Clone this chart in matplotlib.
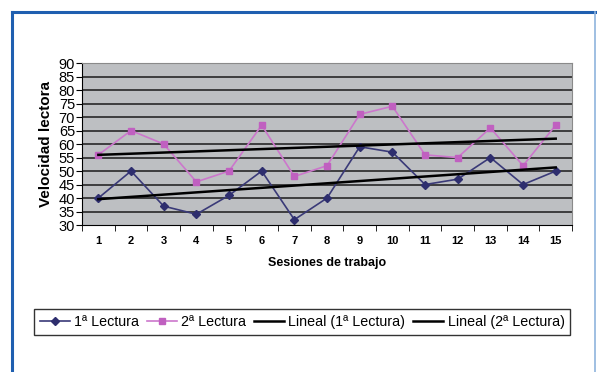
import matplotlib
matplotlib.use("Agg")
import matplotlib.pyplot as plt
import numpy as np
from matplotlib.lines import Line2D

plt.rcParams['font.family'] = ['Liberation Sans', 'DejaVu Sans']

sesiones = np.arange(1, 16)
lectura1 = [40, 50, 37, 34, 41, 50, 32, 40, 59, 57, 45, 47, 55, 45, 50]
lectura2 = [56, 65, 60, 46, 50, 67, 48, 52, 71, 74, 56, 55, 66, 52, 67]
y_ticks = list(range(30, 95, 5))

fig = plt.figure(figsize=(5.97, 3.72), dpi=100)
ax = fig.add_axes([0.1374, 0.395, 0.8208, 0.4355])
ax.set_facecolor('#bdbfc2')

# grid lines every 5
for v in y_ticks[1:-1]:
    ax.axhline(v, color='#1a1a1a', lw=1.1, zorder=1)

ax.plot(sesiones, lectura1, color='#3a3a78', lw=1.2, marker='D', ms=4.5,
        mfc='#2e2e6e', mec='#2e2e6e', zorder=3, label='1ª Lectura')
ax.plot(sesiones, lectura2, color='#cc77cc', lw=1.2, marker='s', ms=5,
        mfc='#c060c0', mec='#c060c0', zorder=3, label='2ª Lectura')

# linear trend lines (Excel "Lineal")
for serie, lab in [(lectura1, 'Lineal (1ª Lectura)'), (lectura2, 'Lineal (2ª Lectura)')]:
    m, b = np.polyfit(sesiones, serie, 1)
    ax.plot(sesiones, m * sesiones + b, color='black', lw=1.8, zorder=4, label=lab)

ax.set_xlim(0.5, 15.5)
ax.set_ylim(30, 90)
ax.set_yticks(y_ticks)
ax.set_yticklabels([str(v) for v in y_ticks], fontsize=10.5)
ax.set_xticks(sesiones)
ax.set_xticklabels([str(s) for s in sesiones], fontsize=8, fontweight='bold')
ax.set_xticks(np.arange(0.5, 16, 1), minor=True)
ax.tick_params(axis='x', which='major', length=0, pad=8)
ax.tick_params(axis='x', which='minor', length=4, color='black')
ax.tick_params(axis='y', length=4, pad=1)

for s in ['top', 'right']:
    ax.spines[s].set_color('#8a8a8a')
ax.spines['left'].set_color('black')
ax.spines['bottom'].set_color('black')

ax.set_xlabel('Sesiones de trabajo', fontsize=9, fontweight='bold', labelpad=8)
ax.set_ylabel('Velocidad lectora', fontsize=11, fontweight='bold', labelpad=4)

handles, labels = ax.get_legend_handles_labels()
leg = fig.legend(handles, labels, ncol=4, loc='center',
                 bbox_to_anchor=(0.506, 0.135), fontsize=10.3, frameon=True,
                 fancybox=False, edgecolor='black', handlelength=2.1,
                 handletextpad=0.3, columnspacing=0.55, borderpad=0.4,
                 borderaxespad=0.0)
leg.get_frame().set_linewidth(1.0)

# blue frame around the figure
fig.add_artist(Line2D([12 / 597, 12 / 597], [0, 1 - 12 / 372], color='#1f5fb0', lw=2.2,
                      transform=fig.transFigure))
fig.add_artist(Line2D([12 / 597, 595 / 597], [1 - 12 / 372, 1 - 12 / 372], color='#1f5fb0',
                      lw=2.2, transform=fig.transFigure))
fig.add_artist(Line2D([595 / 597, 595 / 597], [0, 1 - 12 / 372], color='#8fb4dd', lw=1.2,
                      transform=fig.transFigure))

fig.savefig('out.png', dpi=100)
